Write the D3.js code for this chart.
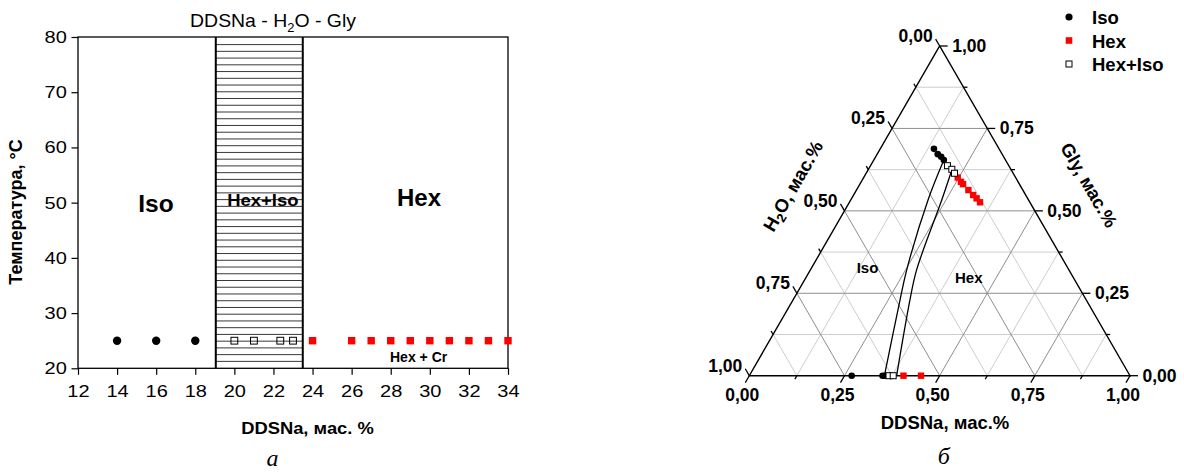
<!DOCTYPE html>
<html><head><meta charset="utf-8">
<script src="https://cdn.jsdelivr.net/npm/d3@7"></script>
<style>html,body{margin:0;padding:0;background:#fff}</style>
</head><body>
<svg id="c" width="1184" height="472"></svg>
<script>
// ---------- DATA: panel a (temperature vs DDSNa) ----------
const xTicksA = [12,14,16,18,20,22,24,26,28,30,32,34];
const yTicksA = [20,30,40,50,60,70,80];
const measureTemp = 25;
const isoA = [14,16,18];
const hexIsoA = [20,21,22.35,23];
const hexA = [24,26,27,28,29,30,31,32,33,34];
const twoPhaseBand = [19.05,23.5];

// ---------- DATA: panel б (ternary, fractions [DDSNa, H2O, Gly]) ----------
const ternTicks = [0,0.25,0.5,0.75,1];
const ternTickLabels = ["0,00","0,25","0,50","0,75","1,00"];
const isoB = [[0.141,0.171,0.688],[0.159,0.169,0.672],[0.172,0.164,0.664],[0.184,0.162,0.654],
              [0.269,0.731,0],[0.350,0.650,0],[0.356,0.644,0]];
const hexIsoB = [[0.202,0.161,0.637],[0.219,0.155,0.626],[0.232,0.154,0.614],
                 [0.367,0.633,0],[0.378,0.622,0]];
const hexB = [[0.247,0.152,0.601],[0.262,0.150,0.588],[0.271,0.148,0.581],[0.294,0.143,0.563],
              [0.314,0.138,0.548],[0.328,0.134,0.538],[0.343,0.131,0.526],
              [0.405,0.595,0],[0.451,0.549,0]];
const boundaryLeft = [[0.184,0.162,0.654],[0.203,0.264,0.533],[0.253,0.426,0.321],[0.281,0.489,0.230],[0.355,0.645,0]];
const boundaryRight = [[0.220,0.156,0.624],[0.239,0.228,0.533],[0.279,0.400,0.321],[0.307,0.463,0.230],[0.387,0.613,0]];

const SANS = '"Liberation Sans", Arial, Helvetica, sans-serif';
const SERIF = '"Liberation Serif", "Times New Roman", serif';
const svg = d3.select('#c');

function txt(parent, x, y, o) {
  let tr = `translate(${x},${y})`;
  if (o.rot) tr += ` rotate(${o.rot})`;
  if (o.sx) tr += ` scale(${o.sx},1)`;
  const t = parent.append('text').attr('transform', tr)
    .attr('text-anchor', o.anchor || 'start')
    .attr('font-family', o.family || SANS)
    .attr('font-size', o.size)
    .attr('font-weight', o.weight || 'normal')
    .attr('font-style', o.style || 'normal')
    .attr('fill', '#000');
  if (o.dy) t.attr('dy', o.dy);
  (o.parts || [[o.text]]).forEach(p => {
    const s = t.append('tspan').text(p[0]);
    if (p[1]) { if (p[1].size) s.attr('font-size', p[1].size); if (p[1].dy) s.attr('dy', p[1].dy); }
  });
  return t;
}

// ================= PANEL a =================
const gA = svg.append('g');
const xA = d3.scaleLinear().domain([12,34]).range([78,508]);
const yA = d3.scaleLinear().domain([20,80]).range([368.3,37]);

const bx0 = xA(twoPhaseBand[0]), bx1 = xA(twoPhaseBand[1]);
const hatchY = d3.range(yA(80) + 7.6, yA(20) - 1, 6.74);
gA.selectAll('line.hatch').data(hatchY).join('line').attr('class','hatch')
  .attr('x1', bx0).attr('x2', bx1).attr('y1', d => d).attr('y2', d => d)
  .attr('stroke', '#222').attr('stroke-width', 0.9);
[bx0, bx1].forEach(x => gA.append('line').attr('x1', x).attr('x2', x)
  .attr('y1', yA(80)).attr('y2', yA(20)).attr('stroke', '#000').attr('stroke-width', 2));

gA.append('rect').attr('x', xA(12)).attr('y', yA(80))
  .attr('width', xA(34) - xA(12)).attr('height', yA(20) - yA(80))
  .attr('fill', 'none').attr('stroke', '#000').attr('stroke-width', 1.3);

const axB = gA.append('g').attr('transform', `translate(0,${yA(20)})`)
  .call(d3.axisBottom(xA).tickValues(xTicksA).tickSize(6.5).tickFormat(d3.format('d')));
axB.select('.domain').remove();
axB.selectAll('.tick line').attr('stroke', '#000').attr('stroke-width', 1.2);
axB.selectAll('.tick text').attr('y', 28.4).attr('dy', 0).attr('font-size', 16)
  .attr('font-family', SANS).attr('fill', '#000').attr('transform', 'scale(1.25,1)');

const axL = gA.append('g').attr('transform', `translate(${xA(12)},0)`)
  .call(d3.axisLeft(yA).tickValues(yTicksA).tickSize(6.5).tickFormat(d3.format('d')));
axL.select('.domain').remove();
axL.selectAll('.tick line').attr('stroke', '#000').attr('stroke-width', 1.2);
axL.selectAll('.tick text').attr('x', -9).attr('y', 5.5).attr('dy', 0).attr('font-size', 16)
  .attr('font-family', SANS).attr('fill', '#000').attr('transform', 'scale(1.25,1)');

gA.selectAll('circle.iso').data(isoA).join('circle').attr('class','iso')
  .attr('cx', d => xA(d)).attr('cy', yA(measureTemp)).attr('r', 4.2).attr('fill', '#000');
gA.selectAll('rect.hi').data(hexIsoA).join('rect').attr('class','hi')
  .attr('x', d => xA(d) - 3.4).attr('y', yA(measureTemp) - 3.4).attr('width', 6.8).attr('height', 6.8)
  .attr('fill', 'none').attr('stroke', '#000').attr('stroke-width', 1);
gA.selectAll('rect.hex').data(hexA).join('rect').attr('class','hex')
  .attr('x', d => xA(d) - 3.7).attr('y', yA(measureTemp) - 3.7).attr('width', 7.4).attr('height', 7.4)
  .attr('fill', '#ff0000');

txt(gA, 273, 26.7, {size: 18, anchor: 'middle', sx: 1.08,
  parts: [["DDSNa - H"], ["2", {size: 12, dy: 5}], ["O - Gly", {dy: -5}]]});
txt(gA, 156, 211.7, {text: 'Iso', size: 24.5, weight: 'bold', anchor: 'middle'});
txt(gA, 262.8, 206, {text: 'Hex+Iso', size: 16.5, weight: 'bold', anchor: 'middle', sx: 1.12});
txt(gA, 419, 206, {text: 'Hex', size: 24, weight: 'bold', anchor: 'middle'});
txt(gA, 390, 361.7, {text: 'Hex + Cr', size: 14, weight: 'bold'});
txt(gA, 307.5, 433.5, {text: 'DDSNa, мас. %', size: 17, weight: 'bold', anchor: 'middle', sx: 1.08});
txt(gA, 21.5, 212, {text: 'Температура, °C', size: 18, weight: 'bold', anchor: 'middle', rot: -90});
txt(gA, 272.5, 465.5, {text: 'а', size: 24, style: 'italic', family: SERIF, anchor: 'middle'});

// ================= PANEL б (ternary) =================
const gB = svg.append('g');
const tx = d3.scaleLinear().domain([0,1]).range([749.3,1130]);
const side = tx(1) - tx(0);
const baseY = 375.7;
const S3 = Math.sqrt(3) / 2;
// composition [DDSNa, H2O, Gly] -> pixel
const P = c => [tx(c[0] + c[2] / 2), baseY - c[2] * side * S3];

const eighths = d3.range(1, 8).map(k => k / 8);
const gridLines = [];
eighths.forEach((v, i) => {
  const major = (i % 2 === 1);
  gridLines.push({a: P([0, 1 - v, v]), b: P([1 - v, 0, v]), major});      // const Gly
  gridLines.push({a: P([v, 1 - v, 0]), b: P([v, 0, 1 - v]), major});      // const DDSNa
  gridLines.push({a: P([0, v, 1 - v]), b: P([1 - v, v, 0]), major});      // const H2O
});
gridLines.sort((p, q) => p.major - q.major);
gB.selectAll('line.grid').data(gridLines).join('line').attr('class','grid')
  .attr('x1', d => d.a[0]).attr('y1', d => d.a[1]).attr('x2', d => d.b[0]).attr('y2', d => d.b[1])
  .attr('stroke', d => d.major ? '#8e8e8e' : '#cdcdcd').attr('stroke-width', 1);

const vBL = P([0,1,0]), vBR = P([1,0,0]), vT = P([0,0,1]);
gB.append('path').attr('d', `M${vBL}L${vBR}L${vT}Z`).attr('fill', 'none')
  .attr('stroke', '#000').attr('stroke-width', 1.4).attr('stroke-linejoin', 'miter');

// ticks
const tickVals = d3.range(0, 9).map(k => ({v: k / 8, major: k % 2 === 0}));
const tickSegs = [];
tickVals.forEach(t => {
  const len = t.major ? 8 : 4;
  const b = P([t.v, 1 - t.v, 0]);                 // DDSNa (bottom)
  tickSegs.push([b, [b[0] - 0.5 * len, b[1] + S3 * len]]);
  const r = P([1 - t.v, 0, t.v]);                 // Gly (right)
  tickSegs.push([r, [r[0] + len, r[1]]]);
  const l = P([0, t.v, 1 - t.v]);                 // H2O (left)
  tickSegs.push([l, [l[0] - 0.5 * len, l[1] - S3 * len]]);
});
gB.selectAll('line.tk').data(tickSegs).join('line').attr('class','tk')
  .attr('x1', d => d[0][0]).attr('y1', d => d[0][1]).attr('x2', d => d[1][0]).attr('y2', d => d[1][1])
  .attr('stroke', '#000').attr('stroke-width', 1.3);

ternTicks.forEach((v, i) => {
  const b = P([v, 1 - v, 0]);
  txt(gB, b[0] - 7, b[1] + 25, {text: ternTickLabels[i], size: 17.5, weight: 'bold', anchor: 'middle'});
  const r = P([1 - v, 0, v]);
  txt(gB, r[0] + 12.5, r[1] + 6, {text: ternTickLabels[i], size: 17.5, weight: 'bold'});
  const l = P([0, v, 1 - v]);
  txt(gB, l[0] - 7, l[1] - 4, {text: ternTickLabels[i], size: 17.5, weight: 'bold', anchor: 'end'});
});

// phase boundaries
const lineGen = d3.line().x(d => P(d)[0]).y(d => P(d)[1]).curve(d3.curveCatmullRom.alpha(0.5));
[boundaryLeft, boundaryRight].forEach(b => gB.append('path').attr('d', lineGen(b))
  .attr('fill', 'none').attr('stroke', '#000').attr('stroke-width', 1.3));

// markers
gB.selectAll('circle.iso').data(isoB).join('circle').attr('class','iso')
  .attr('cx', d => P(d)[0]).attr('cy', d => P(d)[1]).attr('r', 3.3).attr('fill', '#000');
gB.selectAll('rect.hex').data(hexB).join('rect').attr('class','hex')
  .attr('x', d => P(d)[0] - 3.2).attr('y', d => P(d)[1] - 3.2).attr('width', 6.4).attr('height', 6.4)
  .attr('fill', '#ff0000');
gB.selectAll('rect.hi').data(hexIsoB).join('rect').attr('class','hi')
  .attr('x', d => P(d)[0] - 3).attr('y', d => P(d)[1] - 3).attr('width', 6).attr('height', 6)
  .attr('fill', '#fff').attr('stroke', '#000').attr('stroke-width', 1);

// region labels
txt(gB, 867.5, 273, {text: 'Iso', size: 15, weight: 'bold', anchor: 'middle'});
txt(gB, 968.8, 282.7, {text: 'Hex', size: 15, weight: 'bold', anchor: 'middle'});

// axis titles
txt(gB, 945, 429, {text: 'DDSNa, мас.%', size: 18.5, weight: 'bold', anchor: 'middle'});
txt(gB, 793, 186, {size: 18.5, weight: 'bold', anchor: 'middle', rot: -60, dy: '0.35em',
  parts: [["H"], ["2", {size: 13, dy: 4}], ["O, мас.%", {dy: -4}]]});
txt(gB, 1089, 185, {text: 'Gly, мас.%', size: 18.5, weight: 'bold', anchor: 'middle', rot: 60, dy: '0.35em'});
txt(gB, 943.8, 464, {text: 'б', size: 24, style: 'italic', family: SERIF, anchor: 'middle'});

// legend
const legendItems = ['Iso', 'Hex', 'Hex+Iso'];
const legY = d3.scalePoint().domain(legendItems).range([17, 64]);
gB.append('circle').attr('cx', 1069).attr('cy', legY('Iso')).attr('r', 3.6).attr('fill', '#000');
gB.append('rect').attr('x', 1069 - 3.3).attr('y', legY('Hex') - 3.3).attr('width', 6.6).attr('height', 6.6).attr('fill', '#ff0000');
gB.append('rect').attr('x', 1069 - 3).attr('y', legY('Hex+Iso') - 3).attr('width', 6).attr('height', 6)
  .attr('fill', '#fff').attr('stroke', '#000').attr('stroke-width', 1);
legendItems.forEach(k => txt(gB, 1092, legY(k) + 7, {text: k, size: 18.5, weight: 'bold'}));
</script>
</body></html>
